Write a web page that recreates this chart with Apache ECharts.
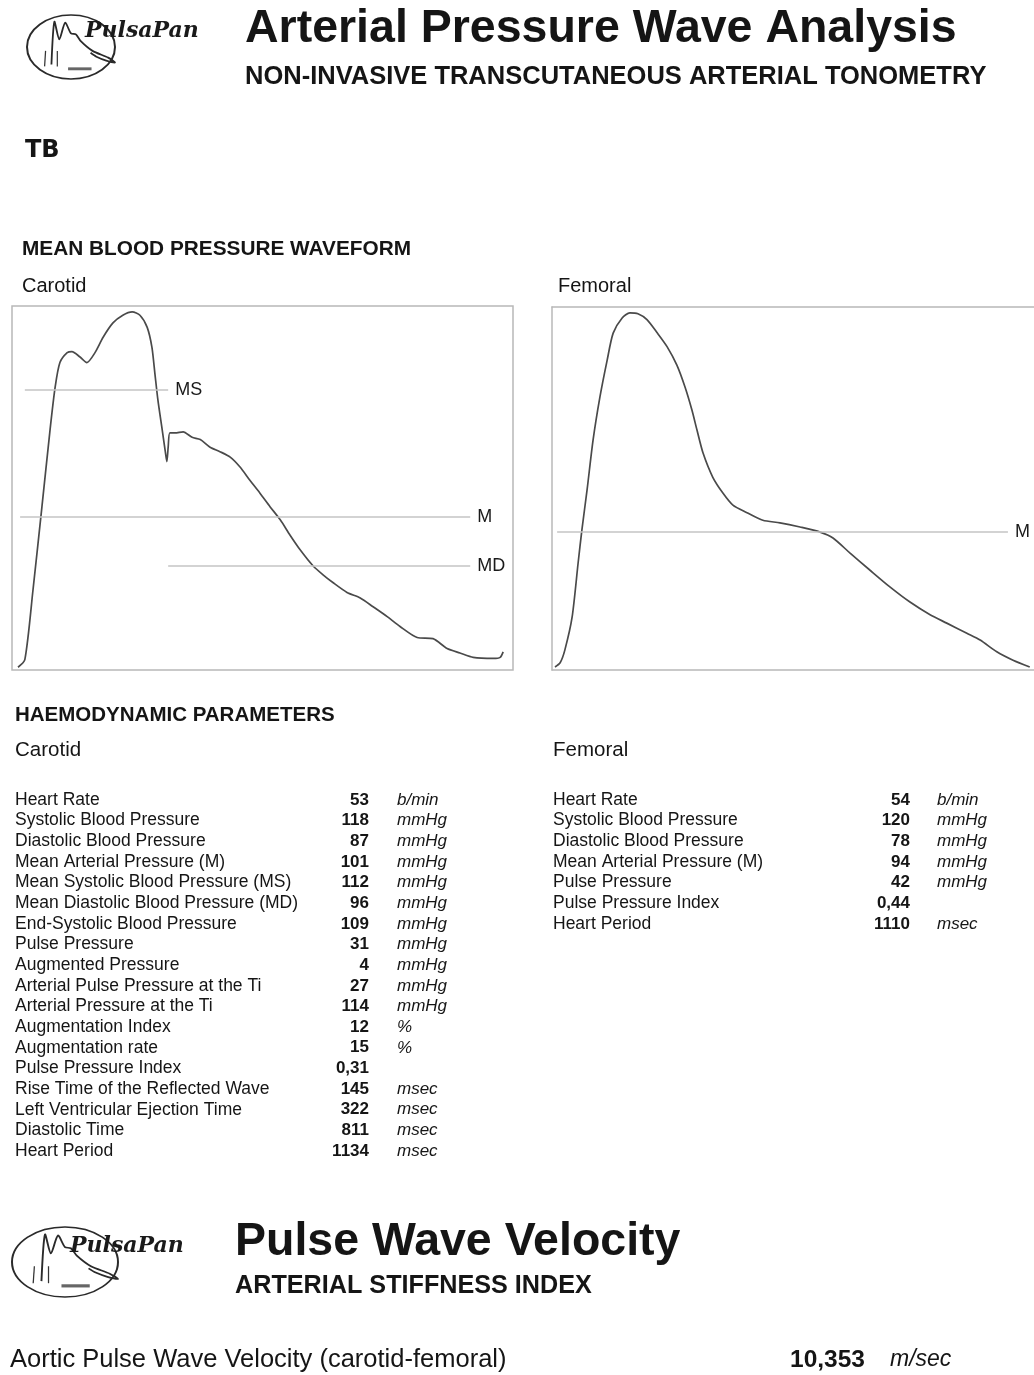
<!DOCTYPE html>
<html><head><meta charset="utf-8">
<script src="https://cdn.jsdelivr.net/npm/echarts@6/dist/echarts.min.js"></script>
<style>html,body{margin:0;padding:0;background:#fff;}#c{width:1034px;height:1375px;}</style>
</head><body><div id="c"></div>
<script>
// ---------- DATA ----------
const carotidTime = [0,16,35,56,75,87,98,115,126,145,161,180,199,222,245,267,285,302,313,320,327,337,344,348,351,355,367,386,407,426,449,472,496,519,542,566,589,613,636,659,690,713,736,769,800,830,863,893,933,970,1003,1033,1064,1111,1127,1134];
const carotidPressure = [86.8,87.5,93.8,101.4,108.4,112.3,114.5,115.4,115.5,115.0,114.5,115.4,116.8,118.1,118.8,119.1,118.8,117.7,115.9,113.5,111.1,108.4,106.5,105.5,106.8,108.1,108.1,108.2,107.7,107.5,106.8,106.4,105.9,105.0,103.8,102.6,101.4,100.2,98.8,97.5,96.0,95.2,94.5,93.6,93.1,92.3,91.4,90.5,89.5,89.4,88.5,88.1,87.7,87.6,87.7,88.2];
const femoralTime = [0,12,23,40,54,63,75,89,105,122,136,157,175,194,215,238,262,285,304,320,332,346,369,393,416,449,486,526,573,620,650,690,736,783,830,877,916,963,994,1033,1071,1110];
const femoralPressure = [78.0,78.5,80.0,83.9,90.3,94.3,99.0,104.9,110.0,114.4,117.6,119.4,120.0,119.9,119.2,117.7,116.0,113.8,111.2,108.5,106.1,103.4,100.5,98.6,97.2,96.3,95.4,95.1,94.6,94.0,93.3,91.5,89.5,87.5,85.7,84.2,83.2,82.0,81.2,79.8,78.8,78.0];

const carotidRefNames = ['MS', 'M', 'MD'];
const carotidRefValues = [112, 100.5, 96];
const carotidRefStart = [16, 5, 351];
const carotidRefEnd = [351, 1057, 1057];
const femoralRefNames = ['M'];
const femoralRefValues = [94];
const femoralRefStart = [5];
const femoralRefEnd = [1059];

const carotidParamLabels = ['Heart Rate','Systolic Blood Pressure','Diastolic Blood Pressure','Mean Arterial Pressure (M)','Mean Systolic Blood Pressure (MS)','Mean Diastolic Blood Pressure (MD)','End-Systolic Blood Pressure','Pulse Pressure','Augmented Pressure','Arterial Pulse Pressure at the Ti','Arterial Pressure at the Ti','Augmentation Index','Augmentation rate','Pulse Pressure Index','Rise Time of the Reflected Wave','Left Ventricular Ejection Time','Diastolic Time','Heart Period'];
const carotidParamValues = ['53','118','87','101','112','96','109','31','4','27','114','12','15','0,31','145','322','811','1134'];
const carotidParamUnits = ['b/min','mmHg','mmHg','mmHg','mmHg','mmHg','mmHg','mmHg','mmHg','mmHg','mmHg','%','%','','msec','msec','msec','msec'];
const femoralParamLabels = ['Heart Rate','Systolic Blood Pressure','Diastolic Blood Pressure','Mean Arterial Pressure (M)','Pulse Pressure','Pulse Pressure Index','Heart Period'];
const femoralParamValues = ['54','120','78','94','42','0,44','1110'];
const femoralParamUnits = ['b/min','mmHg','mmHg','mmHg','mmHg','','msec'];
const pwvLabel = 'Aortic Pulse Wave Velocity (carotid-femoral)';
const pwvValue = '10,353';
const pwvUnit = 'm/sec';

// ---------- RENDER ----------
const FONT = '"Liberation Sans", Arial, sans-serif';
const INK = '#151515';
const BOX = '#b8b8b8';
const chart = echarts.init(document.getElementById('c'), null, {renderer: 'canvas'});

function txt(text, x, y, font, align, fill) {
  return {type: 'text', x: x, y: y, silent: true,
    style: {text: text, font: font, fill: fill || INK, textAlign: align || 'left', textVerticalAlign: 'middle', align: align || 'left', verticalAlign: 'middle'}};
}

const logoWave = [[-20,18],[-17,-26],[-12,-8],[-6,-25],[0,-14],[5,-13],[10,-6],[22,4],[38,11],[45,16],[36,14],[26,10],[20,6]];
function logo(cx, cy, rx, ry, tx, ty, fs) {
  const s = rx / 45, sy = ry / 33;
  return [
    {type: 'circle', x: cx, y: cy, scaleX: 1, scaleY: ry / rx, silent: true,
      shape: {cx: 0, cy: 0, r: rx}, style: {stroke: '#2a2a2a', lineWidth: 2, fill: null, strokeNoScale: true}},
    {type: 'polyline', x: cx, y: cy, scaleX: s, scaleY: sy, silent: true,
      shape: {points: logoWave, smooth: 0.25}, style: {stroke: '#2a2a2a', lineWidth: 1.8, fill: null, strokeNoScale: true}},
    {type: 'line', x: cx, y: cy, scaleX: s, scaleY: sy, silent: true, shape: {x1: -26, y1: 4, x2: -27, y2: 20}, style: {stroke: '#333', lineWidth: 1.2, strokeNoScale: true}},
    {type: 'line', x: cx, y: cy, scaleX: s, scaleY: sy, silent: true, shape: {x1: -14, y1: 4, x2: -14, y2: 20}, style: {stroke: '#333', lineWidth: 1.2, strokeNoScale: true}},
    {type: 'rect', x: cx, y: cy, scaleX: s, scaleY: sy, silent: true, shape: {x: -3, y: 21, width: 24, height: 3}, style: {fill: '#666'}},
    txt('PulsaPan', tx, ty, 'italic bold ' + fs + 'px "DejaVu Serif", serif', 'left', '#1a1a1a')
  ];
}

const graphics = [];
graphics.push(...logo(71, 47, 44, 32, 85, 31, 22));
graphics.push(...logo(65, 1262, 53, 35, 70, 1246, 22));
graphics.push(txt('Arterial Pressure Wave Analysis', 245, 29, 'bold 46.5px ' + FONT));
graphics.push(txt('NON-INVASIVE TRANSCUTANEOUS ARTERIAL TONOMETRY', 245, 77, 'bold 25.5px ' + FONT));
graphics.push(txt('TB', 25, 151, 'bold 24px "DejaVu Sans", sans-serif'));
graphics.push(txt('MEAN BLOOD PRESSURE WAVEFORM', 22, 249, 'bold 20.8px ' + FONT));
graphics.push(txt('Carotid', 22, 286, '20px ' + FONT));
graphics.push(txt('Femoral', 558, 286, '20px ' + FONT));
graphics.push(txt('HAEMODYNAMIC PARAMETERS', 15, 715, 'bold 20.5px ' + FONT));
graphics.push(txt('Carotid', 15, 750, '20.5px ' + FONT));
graphics.push(txt('Femoral', 553, 750, '20.5px ' + FONT));

const row0 = 800, rowStep = 20.65;
carotidParamLabels.forEach((l, i) => {
  const y = row0 + i * rowStep;
  graphics.push(txt(l, 15, y, '17.5px ' + FONT));
  graphics.push(txt(carotidParamValues[i], 369, y, 'bold 17px ' + FONT, 'right'));
  if (carotidParamUnits[i]) graphics.push(txt(carotidParamUnits[i], 397, y, 'italic 17px ' + FONT));
});
femoralParamLabels.forEach((l, i) => {
  const y = row0 + i * rowStep;
  graphics.push(txt(l, 553, y, '17.5px ' + FONT));
  graphics.push(txt(femoralParamValues[i], 910, y, 'bold 17px ' + FONT, 'right'));
  if (femoralParamUnits[i]) graphics.push(txt(femoralParamUnits[i], 937, y, 'italic 17px ' + FONT));
});

graphics.push(txt('Pulse Wave Velocity', 235, 1242, 'bold 46.5px ' + FONT));
graphics.push(txt('ARTERIAL STIFFNESS INDEX', 235, 1286, 'bold 25.2px ' + FONT));
graphics.push(txt(pwvLabel, 10, 1360, '25.5px ' + FONT));
graphics.push(txt(pwvValue, 790, 1360, 'bold 24.5px ' + FONT));
graphics.push(txt(pwvUnit, 890, 1360, 'italic 23px ' + FONT));

function refMarks(names, values, starts, ends) {
  return {
    symbol: 'none', silent: true, animation: false,
    lineStyle: {color: '#c4c4c4', width: 1.6, type: 'solid'},
    label: {show: true, position: 'end', formatter: '{b}', color: '#1a1a1a', fontSize: 18, fontFamily: FONT, distance: 7},
    data: names.map((n, i) => [{name: n, coord: [starts[i], values[i]]}, {coord: [ends[i], values[i]]}])
  };
}

const hiddenAxis = {show: false, splitLine: {show: false}};
const frameAxis = {show: true, axisLine: {show: true, onZero: false, lineStyle: {color: BOX, width: 1.5}},
  axisTick: {show: false}, axisLabel: {show: false}, splitLine: {show: false}};
chart.setOption({
  animation: false,
  backgroundColor: '#ffffff',
  grid: [
    {left: 12, top: 306, width: 501, height: 364, show: true, borderColor: BOX, borderWidth: 1.5, backgroundColor: 'transparent'},
    {left: 552, top: 307, width: 482, height: 363, show: false}
  ],
  xAxis: [
    Object.assign({type: 'value', gridIndex: 0, min: -14, max: 1157}, hiddenAxis),
    Object.assign({type: 'value', gridIndex: 1, min: -7, max: 1120, position: 'bottom'}, frameAxis),
    Object.assign({type: 'value', gridIndex: 1, min: -7, max: 1120, position: 'top'}, frameAxis)
  ],
  yAxis: [
    Object.assign({type: 'value', gridIndex: 0, min: 86.55, max: 119.64}, hiddenAxis),
    Object.assign({type: 'value', gridIndex: 1, min: 77.64, max: 120.7, position: 'left'}, frameAxis)
  ],
  series: [
    {type: 'line', xAxisIndex: 0, yAxisIndex: 0, showSymbol: false, smooth: 0.25,
      lineStyle: {color: '#4a4a4a', width: 1.7},
      data: carotidTime.map((t, i) => [t, carotidPressure[i]]),
      markLine: refMarks(carotidRefNames, carotidRefValues, carotidRefStart, carotidRefEnd), z: 3},
    {type: 'line', xAxisIndex: 1, yAxisIndex: 1, showSymbol: false, smooth: 0.25,
      lineStyle: {color: '#4a4a4a', width: 1.7},
      data: femoralTime.map((t, i) => [t, femoralPressure[i]]),
      markLine: refMarks(femoralRefNames, femoralRefValues, femoralRefStart, femoralRefEnd), z: 3}
  ],
  graphic: graphics
});
</script></body></html>
